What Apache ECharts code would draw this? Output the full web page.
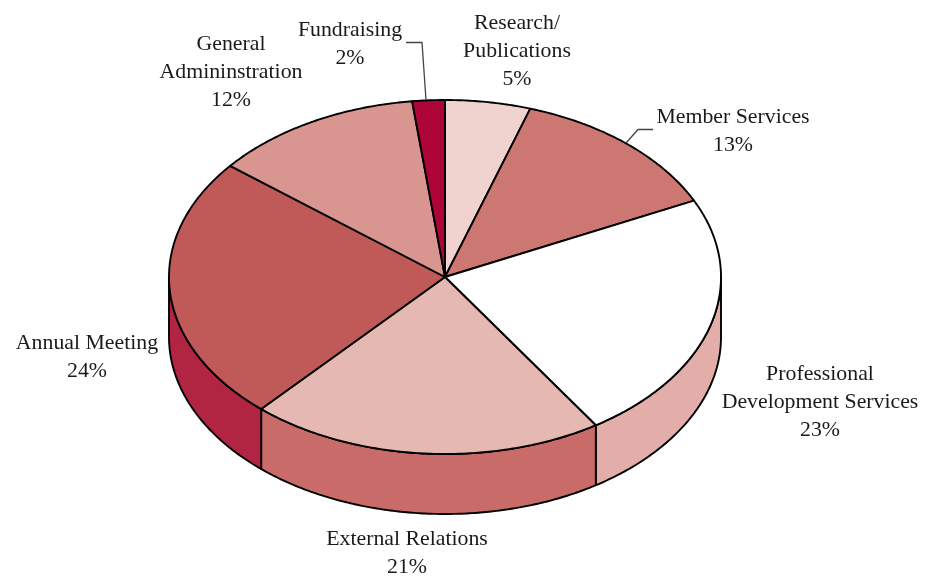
<!DOCTYPE html>
<html>
<head>
<meta charset="utf-8">
<style>html,body{margin:0;padding:0;background:#fff}#c{width:941px;height:579px}</style>
<script src="https://cdn.jsdelivr.net/npm/echarts@6/dist/echarts.min.js"></script>
</head>
<body>
<div id="c"></div>
<script>
// Data, clockwise from 12 o'clock (shares; labels show them rounded)
const categories = ['Research/\nPublications', 'Member Services', 'Professional\nDevelopment Services', 'External Relations', 'Annual Meeting', 'General\nAdmininstration', 'Fundraising'];
const shares = [5.0, 12.9, 22.9, 20.8, 24.2, 12.3, 1.9];
const topColors = ['#F0D2CE', '#CC7772', '#FFFFFF', '#E6B8B2', '#C05A58', '#D99691', '#AE0538'];
const sideColors = ['#E3AEA9', '#C86B69', '#E3AEA9', '#C86B69', '#B22542', '#B22542', '#B22542'];
// Layout
const labelCenters = [[517, 51], [733, 131], [820, 402], [407, 553], [87, 357.5], [231, 72], [350, 44.5]];
const leaderLines = [[[426, 100], [422, 42.5], [406, 42.5]], [[626, 143], [638, 129.5], [653, 129.5]]];
const cx = 445, cy = 277, rx = 276, ry = 177, depth = 60;

const total = shares.reduce((a, b) => a + b, 0);
const startAngles = [];
shares.reduce((acc, v, i) => { startAngles[i] = acc; return acc + v; }, 0);

function pt(a, dy) {
  return [cx + rx * Math.sin(a), cy - ry * Math.cos(a) + (dy || 0)];
}
function arc(a0, a1, dy) {
  const n = Math.max(2, Math.ceil(Math.abs(a1 - a0) / 0.01));
  const out = [];
  for (let i = 0; i <= n; i++) out.push(pt(a0 + (a1 - a0) * i / n, dy));
  return out;
}
const toAngle = v => v / total * 2 * Math.PI;
const lineStyle = { stroke: '#000', lineWidth: 1.9, lineJoin: 'round' };

const sideSeries = {
  type: 'custom', coordinateSystem: 'none', silent: true, z: 1,
  data: shares.map((v, i) => [v, startAngles[i]]),
  renderItem(params, api) {
    const a0 = toAngle(api.value(1));
    const a1 = a0 + toAngle(api.value(0));
    // only the front half (angle between 90 and 270 degrees) has a visible wall
    const lo = Math.max(a0, Math.PI / 2), hi = Math.min(a1, Math.PI * 1.5);
    if (hi <= lo) return { type: 'group', children: [] };
    const pts = arc(lo, hi, 0).concat(arc(hi, lo, depth));
    return {
      type: 'polygon', shape: { points: pts },
      style: Object.assign({ fill: sideColors[params.dataIndex] }, lineStyle)
    };
  }
};
const topSeries = {
  type: 'custom', coordinateSystem: 'none', silent: true, z: 2,
  data: shares.map((v, i) => [v, startAngles[i]]),
  renderItem(params, api) {
    const a0 = toAngle(api.value(1));
    const a1 = a0 + toAngle(api.value(0));
    const pts = [[cx, cy]].concat(arc(a0, a1, 0));
    return {
      type: 'polygon', shape: { points: pts },
      style: Object.assign({ fill: topColors[params.dataIndex] }, lineStyle)
    };
  }
};
const labelSeries = {
  type: 'custom', coordinateSystem: 'none', silent: true, z: 3,
  data: shares.map((v, i) => [v]),
  renderItem(params, api) {
    const i = params.dataIndex;
    return {
      type: 'text', x: labelCenters[i][0], y: labelCenters[i][1],
      style: {
        text: categories[i] + '\n' + Math.round(api.value(0)) + '%',
        fill: '#1a1a1a', font: '21.8px "Liberation Serif", serif',
        lineHeight: 28, align: 'center', verticalAlign: 'middle'
      }
    };
  }
};
const leaderSeries = {
  type: 'custom', coordinateSystem: 'none', silent: true, z: 3,
  data: leaderLines.map((l, i) => [i]),
  renderItem(params) {
    return {
      type: 'polyline', shape: { points: leaderLines[params.dataIndex] },
      style: { stroke: '#444', lineWidth: 1.3, fill: null }
    };
  }
};

const chart = echarts.init(document.getElementById('c'), null, { renderer: 'canvas' });
chart.setOption({
  backgroundColor: '#fff',
  animation: false,
  series: [sideSeries, topSeries, leaderSeries, labelSeries]
});
</script>
</body>
</html>
